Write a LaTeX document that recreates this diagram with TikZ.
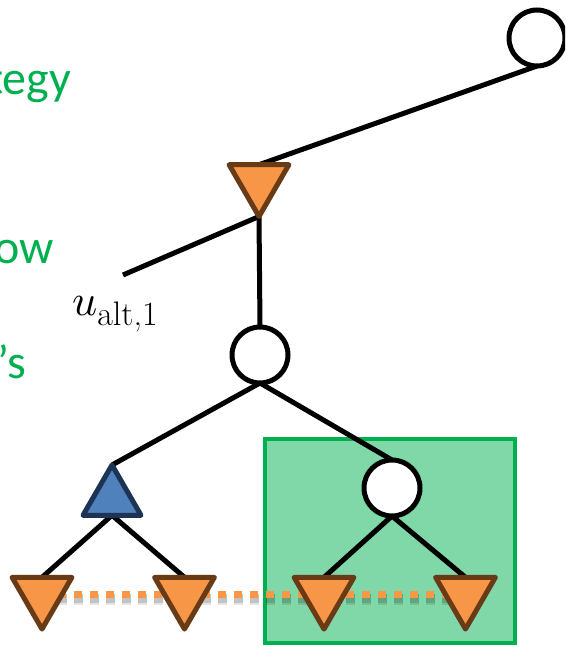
\documentclass[tikz,border=0pt]{standalone}
\usepackage{fontspec}
\usepackage{unicode-math}
\newfontfamily\hintfont{Carlito}
\usetikzlibrary{shapes.geometric}

\pgfdeclarelayer{back}
\pgfdeclarelayer{mid}
\pgfsetlayers{back,mid,main}

\definecolor{leaforange}{RGB}{247,150,70}
\definecolor{leafbrown}{RGB}{104,58,22}
\definecolor{maxblue}{RGB}{79,129,189}
\definecolor{maxnavy}{RGB}{30,52,84}
\definecolor{hintgreen}{RGB}{0,176,80}
\definecolor{boxfill}{RGB}{128,216,168}

\begin{document}
\begin{tikzpicture}[x=1pt,y=-1pt,
  edge/.style={line width=5pt},
  chance/.style={circle, draw=black, fill=white, line width=5pt,
    minimum size=56pt, inner sep=0pt, outer sep=0pt},
  minnode/.style={regular polygon, regular polygon sides=3,
    shape border rotate=180, minimum size=69pt, inner sep=0pt,
    outer sep=0pt, draw=leafbrown, fill=leaforange, line width=5pt,
    line join=round},
  maxnode/.style={regular polygon, regular polygon sides=3,
    minimum size=67pt, inner sep=0pt, outer sep=0pt, draw=maxnavy,
    fill=maxblue, line width=5pt, line join=round},
  hint/.style={font=\hintfont\fontsize{48}{58}\selectfont,
    text=hintgreen, inner sep=0pt, anchor=base east},
  infoset/.style={draw=leaforange, line width=7.5pt,
    dash pattern=on 7.5pt off 8.5pt},
  infoshadow/.style={draw=black, line width=9pt,
    dash pattern=on 8.5pt off 7.5pt}
]
\useasboundingbox (0,0) rectangle (565,647);
\clip (0,0) rectangle (565,647);

% side remarks
\node[hint] (h1) at (71,95) {tegy};
\node[hint] (h2) at (54,263) {ow};
\node[hint] (h3) at (26,378) {’s};

% tree nodes
\node[chance]  (root) at (537,38) {};
\node[minnode] (opp)  at (259,182) {};
\node[chance]  (mid)  at (260,355) {};
\node[maxnode] (mx)   at (112,498.5) {};
\node[chance]  (sub)  at (392,488) {};
\node[minnode] (la)   at (42,594.6) {};
\node[minnode] (lb)   at (184.5,594.6) {};
\node[minnode] (lc)   at (324,594.6) {};
\node[minnode] (ld)   at (465.5,594.6) {};
\coordinate (alt) at (123,275);
\node[anchor=base west, inner sep=0pt] (ualt) at (72,315)
  {\fontsize{44}{50}\selectfont$u$\raisebox{-10pt}{\fontsize{34}{40}\selectfont alt,1}};

% highlighted subgame
\begin{pgfonlayer}{back}
  \draw[draw=hintgreen, fill=boxfill, line width=4pt]
    (265,439) rectangle (515,643);
\end{pgfonlayer}

% edges and information set
\begin{pgfonlayer}{mid}
  \draw[edge] (root.south) -- (opp.90);
  \draw[edge] (opp.270) -- (alt);
  \draw[edge] (opp.270) -- (mid.north);
  \draw[edge] (mid.south) -- (mx.90);
  \draw[edge] (mid.south) -- (sub.north);
  \draw[edge] (mx.270) -- (la.90);
  \draw[edge] (mx.270) -- (lb.90);
  \draw[edge] (sub.south) -- (lc.90);
  \draw[edge] (sub.south) -- (ld.90);
  \draw[infoshadow, opacity=0.10, line width=11pt]
    ([yshift=-5pt]la.center) -- ([yshift=-5pt]ld.center);
  \draw[infoshadow, opacity=0.15]
    ([yshift=-4pt]la.center) -- ([yshift=-4pt]ld.center);
  \draw[infoset] (la.center) -- (ld.center);
\end{pgfonlayer}
\end{tikzpicture}
\end{document}
